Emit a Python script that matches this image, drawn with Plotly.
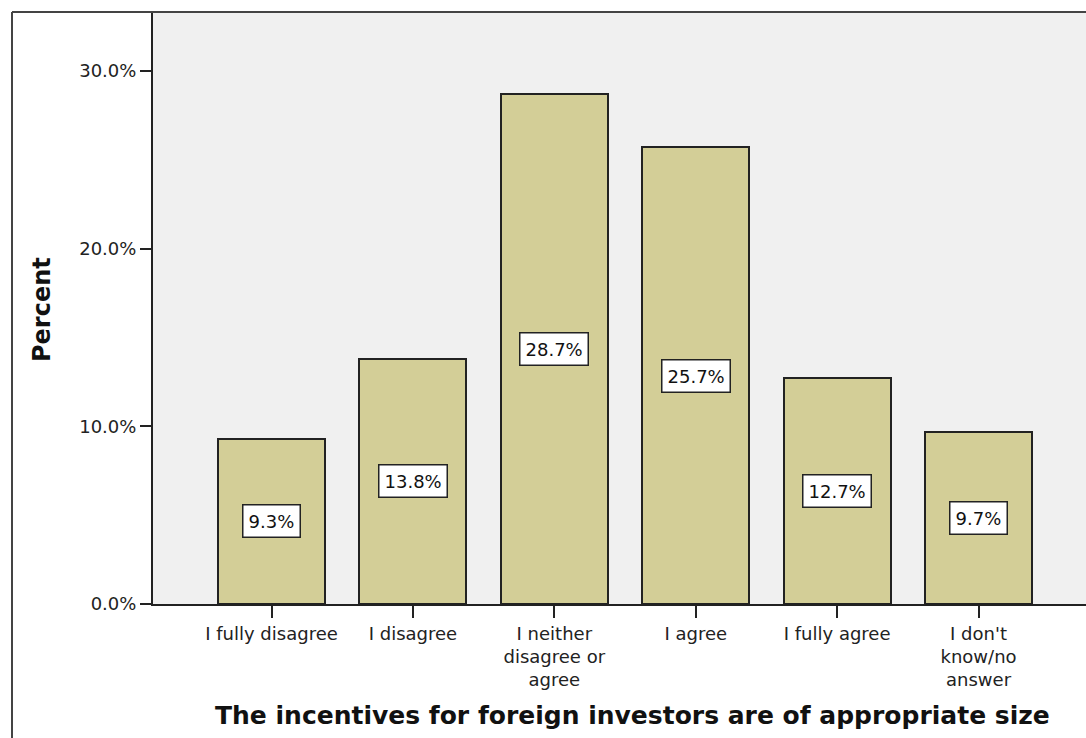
import plotly.graph_objects as go

# Survey responses: share of respondents per answer
categories = [
    "I fully disagree",
    "I disagree",
    "I neither<br>disagree or<br>agree",
    "I agree",
    "I fully agree",
    "I don't<br>know/no<br>answer",
]
percents = [9.3, 13.8, 28.7, 25.7, 12.7, 9.7]
y_ticks = [0, 10, 20, 30]
y_tick_labels = ["0.0%", "10.0%", "20.0%", "30.0%"]

BAR_FILL = "#D3CE97"
PLOT_BG = "#F0F0F0"
INK = "#222222"
FONT = "DejaVu Sans"

W, H = 1086, 738
M_L, M_R, M_T, M_B = 153, 0, 13, 134
plot_w = W - M_L - M_R
plot_h = H - M_T - M_B


def px_to_paper_x(px):
    return (px - M_L) / plot_w


def px_to_paper_y(py):
    return (H - M_B - py) / plot_h


fig = go.Figure()
fig.add_trace(
    go.Bar(
        x=list(range(len(categories))),
        y=percents,
        width=0.757,
        marker=dict(color=BAR_FILL, line=dict(color=INK, width=2)),
        hoverinfo="skip",
    )
)

# Value labels in boxed annotations at the middle of each bar
for i, v in enumerate(percents):
    fig.add_annotation(
        x=i,
        y=v / 2,
        xref="x",
        yref="y",
        text=f"{v:.1f}%",
        showarrow=False,
        font=dict(family=FONT, size=18, color="#111111"),
        bgcolor="white",
        bordercolor=INK,
        borderwidth=1.5,
        borderpad=5,
    )

# Axis titles
fig.add_annotation(
    x=px_to_paper_x(632),
    y=px_to_paper_y(715),
    xref="paper",
    yref="paper",
    xanchor="center",
    yanchor="middle",
    text="<b>The incentives for foreign investors are of appropriate size</b>",
    showarrow=False,
    font=dict(family=FONT, size=25, color="#111111"),
)
fig.add_annotation(
    x=px_to_paper_x(42),
    y=px_to_paper_y(310),
    xref="paper",
    yref="paper",
    xanchor="center",
    yanchor="middle",
    text="<b>Percent</b>",
    textangle=-90,
    showarrow=False,
    font=dict(family=FONT, size=24, color="#111111"),
)

# Outer chart frame (left and top edges)
fig.add_shape(
    type="line", xref="paper", yref="paper",
    x0=px_to_paper_x(12), x1=px_to_paper_x(12),
    y0=px_to_paper_y(12), y1=px_to_paper_y(760),
    line=dict(color="#444444", width=2),
)
fig.add_shape(
    type="line", xref="paper", yref="paper",
    x0=px_to_paper_x(12), x1=px_to_paper_x(1100),
    y0=px_to_paper_y(12), y1=px_to_paper_y(12),
    line=dict(color="#444444", width=2),
)

fig.update_layout(
    width=W,
    height=H,
    margin=dict(l=M_L, r=M_R, t=M_T, b=M_B, autoexpand=False),
    paper_bgcolor="white",
    plot_bgcolor=PLOT_BG,
    showlegend=False,
    bargap=0,
    font=dict(family=FONT, size=18, color="#222222"),
)

fig.update_xaxes(
    tickmode="array",
    tickvals=list(range(len(categories))),
    ticktext=categories,
    range=[-0.838, 5.76],
    showgrid=False,
    zeroline=False,
    showline=True,
    linecolor=INK,
    linewidth=2,
    mirror=True,
    ticks="outside",
    ticklen=12,
    tickwidth=2,
    tickcolor=INK,
    tickfont=dict(family=FONT, size=18, color="#222222"),
    automargin=False,
)
fig.update_yaxes(
    tickmode="array",
    tickvals=y_ticks,
    ticktext=y_tick_labels,
    range=[0, 33.26],
    showgrid=False,
    zeroline=False,
    showline=True,
    linecolor=INK,
    linewidth=2,
    ticks="outside",
    ticklen=11,
    tickwidth=2,
    tickcolor=INK,
    tickfont=dict(family=FONT, size=18, color="#222222"),
    automargin=False,
)

fig.write_html("out.html")
